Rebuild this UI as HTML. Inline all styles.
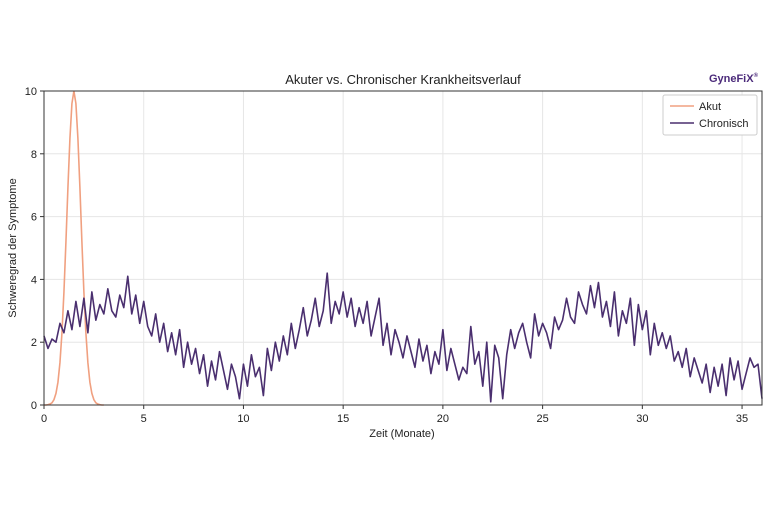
<!DOCTYPE html>
<html><head><meta charset="utf-8"><style>
body{margin:0;background:#fff;font-family:"Liberation Sans","DejaVu Sans",sans-serif}
</style></head><body>
<svg id="chart" width="768" height="512" xmlns="http://www.w3.org/2000/svg" font-family="'Liberation Sans','DejaVu Sans',sans-serif">
<rect width="768" height="512" fill="#fff"/>
<text x="403" y="84" text-anchor="middle" font-size="13" fill="#222">Akuter vs. Chronischer Krankheitsverlauf</text>
<text x="758" y="82" text-anchor="end" font-size="11" font-weight="bold" fill="#4b2a7a">GyneFiX<tspan font-size="6" dy="-5">®</tspan></text>
<g id="grid"></g>
<g id="series"></g>
<g id="axes"></g>
<text x="402" y="437" text-anchor="middle" font-size="11" fill="#222">Zeit (Monate)</text>
<text transform="translate(16,248) rotate(-90)" text-anchor="middle" font-size="11" fill="#222">Schweregrad der Symptome</text>
<g>
<rect x="663" y="95" width="94" height="40" rx="2" fill="#fff" stroke="#ccc"/>
<line x1="670" y1="106" x2="694" y2="106" stroke="#f0a080" stroke-width="1.6"/>
<text x="699" y="110" font-size="11" fill="#222">Akut</text>
<line x1="670" y1="123" x2="694" y2="123" stroke="#4a2f6f" stroke-width="1.6"/>
<text x="699" y="127" font-size="11" fill="#222">Chronisch</text>
</g>
</svg>
<script>
const xTicks=[0,5,10,15,20,25,30,35];
const yTicks=[0,2,4,6,8,10];
const acuteStart=0, acuteStep=0.1;
const acuteValues=[0,0,0.01,0.03,0.07,0.17,0.37,0.73,1.35,2.30,3.60,5.20,6.93,8.49,9.60,10,9.60,8.49,6.93,5.20,3.60,2.30,1.35,0.73,0.37,0.17,0.07,0.03,0.01,0,0];
const chronStep=0.2;
const chronValues=[2.2,1.8,2.1,2.0,2.6,2.3,3.0,2.4,3.3,2.5,
3.4,2.3,3.6,2.7,3.2,2.9,3.7,3.0,2.8,3.5,
3.1,4.1,2.9,3.5,2.6,3.3,2.5,2.2,2.9,2.0,
2.6,1.7,2.3,1.6,2.4,1.2,2.0,1.3,1.8,1.0,
1.6,0.6,1.4,0.8,1.7,1.1,0.5,1.3,0.9,0.2,
1.3,0.6,1.6,0.9,1.2,0.3,1.8,1.1,2.0,1.4,
2.2,1.6,2.6,1.8,2.4,3.1,2.2,2.7,3.4,2.5,
3.0,4.2,2.6,3.3,2.9,3.6,2.8,3.4,2.5,3.1,
2.6,3.3,2.2,2.8,3.4,1.9,2.6,1.6,2.4,2.0,
1.5,2.2,1.7,1.2,2.1,1.4,1.9,1.0,1.7,1.3,
2.4,1.1,1.8,1.3,0.8,1.2,1.0,2.5,1.3,1.7,
0.6,2.0,0.1,1.9,1.5,0.2,1.6,2.4,1.8,2.3,
2.6,2.0,1.5,2.9,2.2,2.6,2.3,1.8,2.8,2.4,
2.7,3.4,2.8,2.6,3.6,3.2,2.9,3.8,3.1,3.9,
2.8,3.3,2.5,3.6,2.2,3.0,2.6,3.4,1.9,3.2,
2.4,3.0,1.6,2.6,1.9,2.3,1.8,2.2,1.4,1.7,
1.2,1.8,0.9,1.5,1.1,0.7,1.3,0.4,1.2,0.6,
1.3,0.3,1.5,0.8,1.4,0.5,1.0,1.5,1.2,1.3,
0.2];
const X0=44,X1=762,Y0=405,Y1=91,XMAX=36,YMAX=10;
const sx=v=>X0+(v/XMAX)*(X1-X0);
const sy=v=>Y0-(v/YMAX)*(Y0-Y1);
const NS="http://www.w3.org/2000/svg";
function mk(tag,attrs,parent){const e=document.createElementNS(NS,tag);for(const k in attrs)e.setAttribute(k,attrs[k]);parent.appendChild(e);return e;}
const grid=document.getElementById('grid'),axes=document.getElementById('axes'),series=document.getElementById('series');
xTicks.forEach(t=>{
 const l=mk('line',{x1:sx(t),x2:sx(t),y1:Y1,y2:Y0,stroke:'#e6e6e6','stroke-width':1},grid);
 
 
 mk('line',{x1:sx(t),x2:sx(t),y1:Y0,y2:Y0+4,stroke:'#333'},axes);
 const tx=mk('text',{x:sx(t),y:Y0+17,'text-anchor':'middle','font-size':11,fill:'#222'},axes);
 tx.textContent=t;
 
 
});
yTicks.forEach(t=>{
 const l=mk('line',{x1:X0,x2:X1,y1:sy(t),y2:sy(t),stroke:'#e6e6e6','stroke-width':1},grid);
 
 
 mk('line',{x1:X0-4,x2:X0,y1:sy(t),y2:sy(t),stroke:'#333'},axes);
 const tx=mk('text',{x:X0-7,y:sy(t)+4,'text-anchor':'end','font-size':11,fill:'#222'},axes);
 tx.textContent=t;
 
 
});
const frame=mk('rect',{x:X0,y:Y1,width:X1-X0,height:Y0-Y1,fill:'none',stroke:'#333','stroke-width':1},axes);


const ap=mk('polyline',{points:acuteValues.map((v,i)=>sx(acuteStart+i*acuteStep)+','+sy(v)).join(' '),fill:'none',stroke:'#f0a080','stroke-width':1.6},series);


const cp=mk('polyline',{points:chronValues.map((v,i)=>sx(i*chronStep)+','+sy(v)).join(' '),fill:'none',stroke:'#4a2f6f','stroke-width':1.6,'stroke-linejoin':'round'},series);


</script>
</body></html>
